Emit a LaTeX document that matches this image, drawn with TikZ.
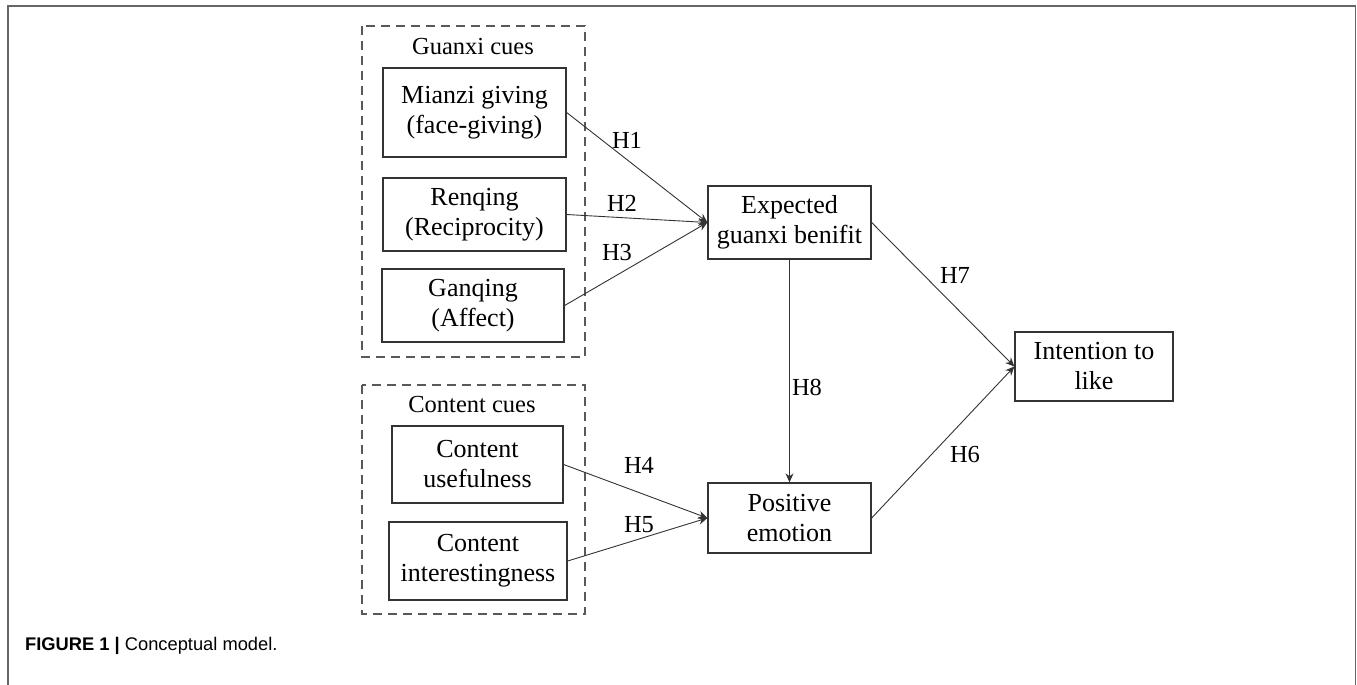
\documentclass[tikz,border=0pt]{standalone}
\usepackage{fontspec}
\setmainfont{Liberation Serif}
\newfontfamily\capfont{Liberation Sans}
\usetikzlibrary{arrows.meta}
\begin{document}
\begin{tikzpicture}[x=1pt,y=-1pt,
  box/.style={draw=black!80,line width=1.3pt,inner sep=0pt,align=center,font=\fontsize{26}{30}\selectfont},
  grp/.style={draw=black!65,line width=1.2pt,dash pattern=on 9pt off 6pt},
  arr/.style={draw=black!80,line width=0.9pt,-{Stealth[length=9pt,width=8pt]}},
  hlab/.style={inner sep=0pt,font=\fontsize{24.5}{28}\selectfont},
  grptitle/.style={inner sep=0pt,font=\fontsize{24.5}{28}\selectfont},
  frame/.style={draw=black!60,line width=1.4pt}]
\useasboundingbox (0,0) rectangle (1357,685);
% outer figure frame (open at bottom)
\draw[frame] (8,685) -- (8,6) -- (1355.5,6) -- (1355.5,685);
% group boxes
\draw[grp] (362,26) rectangle (585,357);
\draw[grp] (362,385) rectangle (585,614);
\node[grptitle] (gcues) at (473,47) {Guanxi cues};
\node[grptitle] (ccues) at (472,405) {Content cues};
% nodes
\node[box,minimum width=183pt,minimum height=89pt] (mianzi) at (474.5,112.5) {Mianzi giving\\(face-giving)};
\node[box,minimum width=183pt,minimum height=73pt] (renqing) at (474.5,214.5) {Renqing\\(Reciprocity)};
\node[box,minimum width=182pt,minimum height=73pt] (ganqing) at (473,305.5) {Ganqing\\(Affect)};
\node[box,minimum width=171pt,minimum height=77pt] (useful) at (477.5,464.5) {Content\\usefulness};
\node[box,minimum width=178pt,minimum height=78pt] (interest) at (478,561) {Content\\interestingness};
\node[box,minimum width=163pt,minimum height=73pt] (exp) at (789.5,222.5) {Expected\\guanxi benifit};
\node[box,minimum width=163pt,minimum height=70pt] (pos) at (789.5,518) {Positive\\emotion};
\node[box,minimum width=158pt,minimum height=69pt] (int) at (1094,366.5) {Intention to\\like};
% connectors
\draw[arr] (mianzi.east) -- (exp.west);
\draw[arr] (renqing.east) -- (exp.west);
\draw[arr] (ganqing.east) -- (exp.west);
\draw[arr] (useful.east) -- (pos.west);
\draw[arr] (interest.east) -- (pos.west);
\draw[arr] (exp.south) -- (pos.north);
\draw[arr] (exp.east) -- (int.west);
\draw[arr] (pos.east) -- (int.west);
% labels
\node[hlab] (h1) at (627,140) {H1};
\node[hlab] (h2) at (622,203) {H2};
\node[hlab] (h3) at (617,253) {H3};
\node[hlab] (h4) at (639,465) {H4};
\node[hlab] (h5) at (639,525) {H5};
\node[hlab] (h8) at (807,387) {H8};
\node[hlab] (h7) at (955,275) {H7};
\node[hlab] (h6) at (965,455) {H6};
% caption
\node[anchor=base west,inner sep=0pt,font=\capfont\fontsize{18.3}{22}\selectfont] (cap) at (25,650) {\textbf{FIGURE 1 |} Conceptual model.};
\end{tikzpicture}
\end{document}
